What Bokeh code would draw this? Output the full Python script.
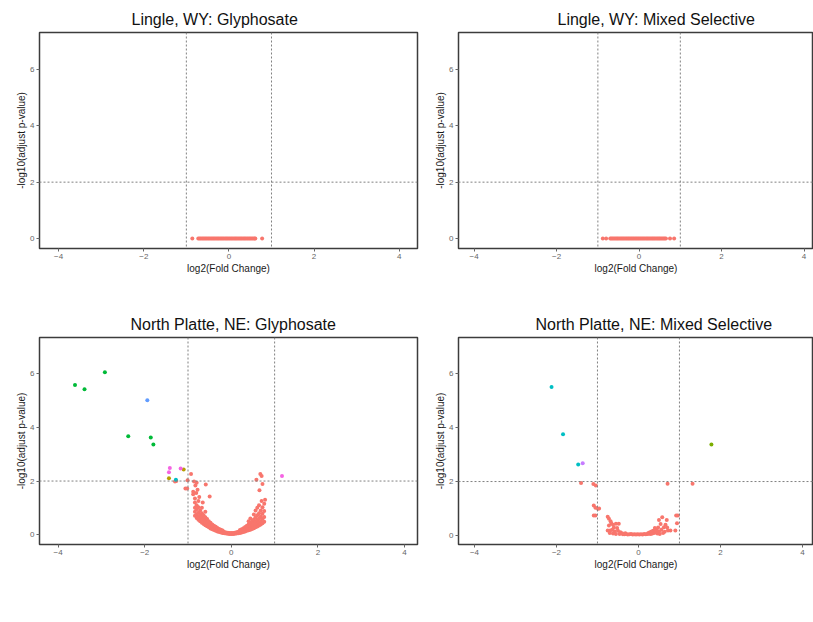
from bokeh.plotting import figure
from bokeh.models import Span, FixedTicker, Range1d, Label
from bokeh.layouts import gridplot
from bokeh.embed import file_html
from bokeh.resources import INLINE

# ------------------------------------------------------------------ data
TICKS_X = [-4, -2, 0, 2, 4]
TICKS_Y = [0, 2, 4, 6]
FC_CUT = [-1, 1]
P_CUT = 2

PHYLA6 = ["No change", "Bacteriodetes", "Cyanobacteria", "Fibrobacteria", "Firmicutes", "Proteobacteria"]
COLORS6 = ["#F8766D", "#B79F00", "#00BA38", "#00BFC4", "#619CFF", "#F564E3"]
PHYLA4 = ["No change", "Bacteriodetes", "Cyanobacteria", "Firmicutes"]
COLORS4 = ["#F8766D", "#7CAE00", "#00BFC4", "#C77CFF"]

# Lingle, WY: Glyphosate (all adjusted p = 1 -> -log10 = 0)
LWG_X = [-0.86, -0.72, -0.69, -0.66, -0.63, -0.60, -0.57, -0.54, -0.51, -0.48, -0.45, -0.42,
         -0.39, -0.36, -0.33, -0.30, -0.27, -0.24, -0.21, -0.18, -0.15, -0.12, -0.09, -0.06,
         -0.03, 0.00, 0.03, 0.06, 0.09, 0.12, 0.15, 0.18, 0.21, 0.24, 0.27, 0.30, 0.33, 0.36,
         0.39, 0.42, 0.45, 0.48, 0.51, 0.54, 0.57, 0.60, 0.62, 0.78]
LWG_Y = [0.0] * len(LWG_X)

# Lingle, WY: Mixed Selective
LWM_X = [-0.88, -0.80, -0.70, -0.67, -0.64, -0.61, -0.58, -0.55, -0.52, -0.49, -0.46, -0.43,
         -0.40, -0.37, -0.34, -0.31, -0.28, -0.25, -0.22, -0.19, -0.16, -0.13, -0.10, -0.07,
         -0.04, -0.01, 0.02, 0.05, 0.08, 0.11, 0.14, 0.17, 0.20, 0.23, 0.26, 0.29, 0.32, 0.35,
         0.38, 0.41, 0.44, 0.47, 0.50, 0.53, 0.56, 0.59, 0.62, 0.65, 0.75, 0.85]
LWM_Y = [0.0] * len(LWM_X)

# North Platte, NE: Glyphosate
NPG_CORE_COLS = [-0.84, -0.80, -0.76, -0.72, -0.68, -0.64, -0.60, -0.56, -0.52, -0.48, -0.44,
                 -0.40, -0.36, -0.32, -0.28, -0.24, -0.20, -0.16, -0.12, -0.08, -0.04, 0.00,
                 0.04, 0.08, 0.12, 0.16, 0.20, 0.24, 0.28, 0.32, 0.36, 0.40, 0.44, 0.48, 0.52,
                 0.56, 0.60, 0.64, 0.68, 0.72, 0.76]
NPG_CORE_LEVELS = [
    [0.70, 0.85, 1.00, 1.20, 1.35], [0.62, 0.75, 0.95, 1.10], [0.55, 0.68, 0.82, 1.02, 1.25],
    [0.50, 0.60, 0.72, 0.90], [0.44, 0.55, 0.66, 0.80, 1.00], [0.40, 0.48, 0.58, 0.72],
    [0.35, 0.43, 0.52, 0.65, 0.85], [0.31, 0.38, 0.46, 0.58], [0.27, 0.33, 0.40, 0.50],
    [0.23, 0.29, 0.35, 0.44], [0.20, 0.25, 0.31, 0.38], [0.17, 0.22, 0.27, 0.33],
    [0.14, 0.19, 0.24, 0.29], [0.12, 0.16, 0.20, 0.25], [0.10, 0.13, 0.17, 0.21],
    [0.08, 0.11, 0.14, 0.18], [0.06, 0.09, 0.12, 0.15], [0.05, 0.07, 0.10],
    [0.04, 0.06, 0.08], [0.03, 0.05, 0.07], [0.02, 0.04, 0.06], [0.02, 0.04, 0.06],
    [0.02, 0.04, 0.06], [0.03, 0.05, 0.07], [0.04, 0.06, 0.09], [0.05, 0.08, 0.11],
    [0.06, 0.09, 0.13, 0.17], [0.08, 0.11, 0.15, 0.20], [0.10, 0.13, 0.18, 0.24],
    [0.12, 0.16, 0.21, 0.28], [0.14, 0.19, 0.25, 0.33], [0.16, 0.22, 0.29, 0.38, 0.50],
    [0.18, 0.25, 0.33, 0.44, 0.60], [0.21, 0.28, 0.37, 0.50], [0.24, 0.32, 0.42, 0.56, 0.75],
    [0.27, 0.36, 0.48, 0.64, 0.90], [0.30, 0.40, 0.54, 0.72, 1.00], [0.34, 0.45, 0.60, 0.80, 1.10],
    [0.38, 0.50, 0.68, 0.90], [0.42, 0.58, 0.78, 1.02], [0.48, 0.66, 0.88, 1.15]]
NPG_OUT_X = [-1.30, -1.27, -1.06, -1.02, -1.01, -0.93, -0.86, -0.80, -0.83, -0.59, -0.78, -0.81,
             -0.88, -0.50, -0.74, -0.66, -0.88, 0.58, 0.67, 0.70, 0.72, 0.65, 0.78, 0.70]
NPG_OUT_Y = [1.98, 2.00, 1.72, 1.72, 2.03, 2.26, 1.98, 1.94, 1.83, 1.87, 1.67, 1.55,
             1.51, 1.42, 1.40, 1.20, 1.60, 2.05, 2.26, 2.19, 1.89, 1.66, 1.30, 1.25]
NPG_BACT_X = [-1.44, -1.10]
NPG_BACT_Y = [2.10, 2.43]
NPG_CYANO_X = [-3.61, -3.39, -2.92, -2.38, -1.86, -1.80]
NPG_CYANO_Y = [5.59, 5.43, 6.06, 3.67, 3.63, 3.36]
NPG_FIBRO_X = [-1.28]
NPG_FIBRO_Y = [2.05]
NPG_FIRM_X = [-1.94]
NPG_FIRM_Y = [5.02]
NPG_PROTEO_X = [-1.42, -1.44, -1.17, 1.17]
NPG_PROTEO_Y = [2.49, 2.33, 2.47, 2.19]

# North Platte, NE: Mixed Selective
NPM_NC_X = [-1.40, -1.10, -1.04, 0.71, 1.32, -1.09, -1.05, -0.99, -0.96, -1.09, -1.05, 0.92,
            0.96, 0.94, 0.90,
            -0.75, -0.72, -0.68, -0.72, -0.66, -0.62, -0.55, -0.48, -0.60, -0.52, -0.69, -0.75,
            -0.64, -0.58, -0.50, -0.44, -0.70, -0.62, -0.40, -0.55, -0.46, -0.38,
            -0.34, -0.30, -0.26, -0.22, -0.18, -0.14, -0.10, -0.06, -0.02, 0.02, 0.06, 0.10,
            0.14, 0.18, 0.22, 0.26, -0.32, 0.24, 0.28,
            0.30, 0.34, 0.38, 0.42, 0.46, 0.50, 0.36, 0.44, 0.48, 0.54, 0.50, 0.58, 0.69, 0.62,
            0.72, 0.78, 0.56, 0.66, 0.40, 0.60, 0.52, 0.64, 0.70, 0.32]
NPM_NC_Y = [1.95, 1.91, 1.85, 1.92, 1.92, 1.11, 1.03, 0.99, 1.00, 0.74, 0.74, 0.74,
            0.74, 0.46, 0.19,
            0.70, 0.62, 0.53, 0.37, 0.45, 0.40, 0.44, 0.44, 0.30, 0.28, 0.19, 0.19,
            0.22, 0.15, 0.18, 0.12, 0.10, 0.08, 0.09, 0.06, 0.06, 0.05,
            0.05, 0.06, 0.04, 0.05, 0.06, 0.04, 0.05, 0.04, 0.05, 0.04, 0.05, 0.04,
            0.06, 0.05, 0.06, 0.07, 0.09, 0.10, 0.12,
            0.06, 0.08, 0.10, 0.12, 0.08, 0.15, 0.18, 0.22, 0.30, 0.43, 0.58, 0.68, 0.58, 0.31,
            0.19, 0.19, 0.22, 0.40, 0.28, 0.10, 0.06, 0.14, 0.30, 0.15]
NPM_BACT_X = [1.78]
NPM_BACT_Y = [3.37]
NPM_CYANO_X = [-2.12, -1.84, -1.47]
NPM_CYANO_Y = [5.50, 3.75, 2.63]
NPM_FIRM_X = [-1.36]
NPM_FIRM_Y = [2.68]

TITLES = ["Lingle, WY: Glyphosate", "Lingle, WY: Mixed Selective",
          "North Platte, NE: Glyphosate", "North Platte, NE: Mixed Selective"]
X_LABEL = "log2(Fold Change)"
Y_LABEL = "-log10(adjust p-value)"
LEGEND_TITLE = "Phylum"

# ------------------------------------------------------------------ helpers
FONT = "Liberation Sans"

npg_nc_x, npg_nc_y = [], []
for cx, levels in zip(NPG_CORE_COLS, NPG_CORE_LEVELS):
    for lv in levels:
        npg_nc_x.append(cx)
        npg_nc_y.append(lv)
npg_nc_x += NPG_OUT_X
npg_nc_y += NPG_OUT_Y


def panel(title, w, h, borders, xr, yr, groups, title_off, legend_spec):
    left, right, top, bottom = borders
    p = figure(width=w, height=h, x_range=Range1d(*xr), y_range=Range1d(*yr),
               output_backend="svg", toolbar_location=None,
               min_border_left=left, min_border_right=right,
               min_border_top=top, min_border_bottom=bottom)
    p.title.text = title
    p.title.text_font = FONT
    p.title.text_font_size = "16px"
    p.title.text_font_style = "normal"
    p.title.text_color = "#111111"
    p.title.align = "left"
    p.title.offset = title_off
    p.title.standoff = 9
    p.xgrid.visible = False
    p.ygrid.visible = False
    p.outline_line_color = "#3c3c3c"
    p.outline_line_width = 1.5
    p.xaxis.ticker = FixedTicker(ticks=TICKS_X)
    p.yaxis.ticker = FixedTicker(ticks=TICKS_Y)
    p.xaxis.axis_label = X_LABEL
    p.yaxis.axis_label = Y_LABEL
    for ax in (p.xaxis[0], p.yaxis[0]):
        ax.axis_line_color = None
        ax.major_tick_line_color = "#666666"
        ax.major_tick_out = 3
        ax.major_tick_in = 0
        ax.minor_tick_line_color = None
        ax.major_label_text_font = FONT
        ax.major_label_text_font_size = "8px"
        ax.major_label_text_color = "#666666"
        ax.major_label_standoff = 2
        ax.axis_label_text_font = FONT
        ax.axis_label_text_font_size = "10px"
        ax.axis_label_text_font_style = "normal"
        ax.axis_label_text_color = "#1a1a1a"
        ax.axis_label_standoff = 0
    p.xaxis[0].axis_label_standoff = 1
    for v in FC_CUT:
        p.add_layout(Span(location=v, dimension="height", line_color="#808080",
                          line_dash="2 2", line_width=1))
    p.add_layout(Span(location=P_CUT, dimension="width", line_color="#808080",
                      line_dash="2 2", line_width=1))
    for name, color, xs, ys in groups:
        p.scatter(xs, ys, size=4, fill_color=color, line_color=None)

    # legend drawn as annotations below the axis (positions in data units)
    title_xy, entries = legend_spec
    p.add_layout(Label(x=title_xy[0], y=title_xy[1], text=LEGEND_TITLE,
                       text_font=FONT, text_font_size="11px", text_color="#1a1a1a",
                       text_baseline="middle", text_align="left"))
    for (name, color, xs, ys), (dx, lx, ey) in zip(groups, entries):
        p.add_layout(Label(x=dx, y=ey, text="\u25cf", text_font="DejaVu Sans",
                           text_font_size="5px", text_color=color,
                           text_baseline="middle", text_align="center"))
        p.add_layout(Label(x=lx, y=ey, text=name, text_font=FONT,
                           text_font_size="6.5px", text_color="#333333",
                           text_baseline="middle", text_align="left"))
    return p


p1 = panel(TITLES[0], 424, 305, (38, 7, 32, 57), (-4.45, 4.43), (-0.35, 7.3),
           [(PHYLA6[0], COLORS6[0], LWG_X, LWG_Y)], 92,
           ((-0.935, -1.944), [(0.26, 0.447, -1.944)]))
p2 = panel(TITLES[1], 389, 305, (24, 0, 32, 57), (-4.38, 4.23), (-0.35, 7.3),
           [(PHYLA6[0], COLORS6[0], LWM_X, LWM_Y)], 99,
           ((-0.96, -1.944), [(0.27, 0.43, -1.944)]))
p3 = panel(TITLES[2], 424, 317, (39, 1, 32, 74), (-4.43, 4.30), (-0.37, 7.36),
           [(PHYLA6[0], COLORS6[0], npg_nc_x, npg_nc_y),
            (PHYLA6[1], COLORS6[1], NPG_BACT_X, NPG_BACT_Y),
            (PHYLA6[2], COLORS6[2], NPG_CYANO_X, NPG_CYANO_Y),
            (PHYLA6[3], COLORS6[3], NPG_FIBRO_X, NPG_FIBRO_Y),
            (PHYLA6[4], COLORS6[4], NPG_FIRM_X, NPG_FIRM_Y),
            (PHYLA6[5], COLORS6[5], NPG_PROTEO_X, NPG_PROTEO_Y)], 91,
           ((-2.907, -2.43), [(-1.725, -1.566, -2.165), (-1.725, -1.566, -2.641),
                              (-0.248, -0.111, -2.165), (-0.248, -0.111, -2.641),
                              (1.252, 1.389, -2.165), (1.252, 1.389, -2.641)]))
p4 = panel(TITLES[3], 389, 317, (34, 0, 32, 78), (-4.39, 4.27), (-0.33, 7.33),
           [(PHYLA4[0], COLORS4[0], NPM_NC_X, NPM_NC_Y),
            (PHYLA4[1], COLORS4[1], NPM_BACT_X, NPM_BACT_Y),
            (PHYLA4[2], COLORS4[2], NPM_CYANO_X, NPM_CYANO_Y),
            (PHYLA4[3], COLORS4[3], NPM_FIRM_X, NPM_FIRM_Y)], 77,
           ((-3.171, -2.154), [(-1.822, -1.634, -2.154), (-0.700, -0.520, -2.154),
                               (0.700, 0.837, -2.154), (2.188, 2.366, -2.154)]))

layout = gridplot([[p1, p2], [p3, p4]], toolbar_location=None)
open("out.html", "w").write(file_html(layout, INLINE))
